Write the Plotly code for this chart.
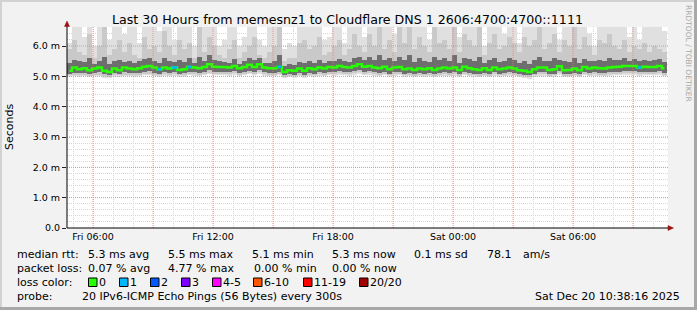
import plotly.graph_objects as go
import pandas as pd

# ---------------- data ----------------
title_text = "Last 30 Hours from memesnz1 to Cloudflare DNS 1 2606:4700:4700::1111"
start_time = "2025-12-19 04:42:00"
end_time = "2025-12-20 10:45:00"
step_minutes = 15

median_rtt = [
    5.18, 5.29, 5.23, 5.27, 5.20, 5.26, 5.29, 5.18, 5.14, 5.26,
    5.20, 5.29, 5.26, 5.23, 5.27, 5.32, 5.34, 5.29, 5.23, 5.29,
    5.26, 5.29, 5.21, 5.23, 5.31, 5.29, 5.27, 5.31, 5.40, 5.32,
    5.31, 5.31, 5.29, 5.34, 5.27, 5.31, 5.38, 5.31, 5.40, 5.29,
    5.27, 5.27, 5.31, 5.14, 5.20, 5.18, 5.26, 5.18, 5.27, 5.23,
    5.29, 5.26, 5.31, 5.29, 5.34, 5.31, 5.29, 5.34, 5.40, 5.32,
    5.34, 5.29, 5.27, 5.32, 5.23, 5.29, 5.31, 5.23, 5.26, 5.21,
    5.26, 5.23, 5.27, 5.21, 5.26, 5.29, 5.26, 5.29, 5.21, 5.32,
    5.27, 5.23, 5.21, 5.27, 5.21, 5.29, 5.23, 5.26, 5.29, 5.26,
    5.20, 5.18, 5.14, 5.23, 5.29, 5.29, 5.21, 5.23, 5.33, 5.20,
    5.21, 5.26, 5.20, 5.31, 5.26, 5.29, 5.27, 5.26, 5.29, 5.31,
    5.32, 5.34, 5.34, 5.34, 5.29, 5.32, 5.31, 5.31, 5.34, 5.27,
]

loss_count = [0] * 120
for _i in (18, 21, 24, 42, 114):
    loss_count[_i] = 1

ping_max = [
    6.10, 6.70, 6.70, 6.30, 6.70, 6.00, 6.70, 6.70, 6.20, 6.70,
    6.70, 6.40, 6.70, 6.70, 6.10, 6.70, 6.70, 6.70, 6.50, 6.70,
    6.70, 6.20, 6.70, 6.70, 6.70, 6.00, 6.70, 6.70, 6.70, 6.70,
    6.00, 6.20, 6.70, 6.70, 6.00, 6.30, 6.70, 6.70, 6.20, 6.00,
    6.70, 6.70, 6.70, 5.90, 6.10, 6.00, 6.70, 6.70, 6.70, 6.70,
    6.70, 6.20, 6.30, 6.70, 6.70, 6.10, 6.70, 6.70, 6.70, 6.30,
    6.70, 6.70, 6.70, 6.70, 6.70, 6.40, 6.70, 6.70, 6.70, 6.70,
    6.70, 6.70, 6.20, 6.70, 6.70, 6.70, 6.70, 6.70, 6.30, 6.70,
    6.70, 6.70, 6.70, 6.00, 6.70, 6.70, 6.70, 6.40, 6.70, 6.70,
    6.10, 6.70, 6.70, 6.70, 6.70, 6.70, 6.70, 6.70, 6.20, 6.70,
    6.70, 6.70, 6.70, 6.70, 6.40, 6.00, 6.70, 6.70, 6.70, 6.70,
    6.70, 6.70, 6.30, 6.70, 6.20, 6.70, 6.70, 6.70, 6.70, 6.50,
]

ping_upper = [
    5.90, 6.20, 5.80, 5.70, 6.40, 5.60, 6.00, 6.70, 5.70, 5.90,
    6.20, 5.80, 6.10, 5.70, 5.60, 6.30, 5.90, 6.00, 5.80, 6.50,
    6.00, 5.70, 6.20, 5.90, 6.10, 5.60, 6.70, 5.80, 6.30, 6.00,
    5.70, 5.60, 5.90, 6.20, 5.60, 5.80, 6.00, 6.30, 5.70, 5.60,
    5.80, 6.00, 6.70, 5.50, 5.60, 5.60, 6.10, 6.20, 5.90, 6.00,
    6.30, 5.70, 5.80, 6.00, 6.20, 5.70, 5.90, 6.40, 6.00, 5.80,
    6.40, 6.00, 6.70, 5.90, 6.20, 5.80, 6.70, 6.10, 6.70, 5.90,
    6.30, 6.00, 5.80, 6.70, 6.10, 6.20, 5.90, 6.70, 5.80, 6.40,
    6.20, 6.00, 6.70, 5.70, 6.10, 6.40, 5.90, 6.00, 6.30, 6.10,
    5.80, 6.30, 6.00, 6.20, 6.70, 5.90, 6.10, 6.40, 5.80, 6.20,
    6.00, 6.70, 5.90, 6.30, 6.00, 5.70, 6.20, 6.10, 6.40, 6.00,
    5.90, 6.20, 5.80, 6.00, 5.90, 6.10, 5.80, 6.00, 5.90, 5.80,
]

ping_dark_hi = [
    5.45, 5.55, 5.50, 5.48, 5.60, 5.42, 5.52, 5.65, 5.40, 5.50,
    5.55, 5.48, 5.52, 5.45, 5.50, 5.58, 5.62, 5.50, 5.45, 5.60,
    5.50, 5.47, 5.55, 5.48, 5.60, 5.45, 5.65, 5.52, 5.70, 5.55,
    5.50, 5.48, 5.45, 5.58, 5.42, 5.50, 5.62, 5.55, 5.60, 5.45,
    5.45, 5.50, 5.70, 5.35, 5.40, 5.38, 5.48, 5.45, 5.50, 5.45,
    5.55, 5.45, 5.50, 5.52, 5.58, 5.50, 5.48, 5.60, 5.65, 5.55,
    5.65, 5.55, 5.70, 5.55, 5.60, 5.50, 5.65, 5.55, 5.70, 5.48,
    5.60, 5.50, 5.48, 5.65, 5.55, 5.60, 5.50, 5.70, 5.45, 5.62,
    5.58, 5.50, 5.65, 5.45, 5.55, 5.60, 5.48, 5.52, 5.62, 5.55,
    5.45, 5.50, 5.42, 5.55, 5.65, 5.52, 5.50, 5.60, 5.55, 5.50,
    5.48, 5.62, 5.45, 5.58, 5.52, 5.50, 5.55, 5.50, 5.60, 5.55,
    5.55, 5.60, 5.52, 5.58, 5.50, 5.55, 5.52, 5.55, 5.58, 5.48,
]

ping_dark_lo = [
    5.08, 5.12, 5.10, 5.12, 5.08, 5.11, 5.13, 5.07, 5.04, 5.10,
    5.08, 5.13, 5.11, 5.10, 5.12, 5.15, 5.16, 5.12, 5.09, 5.13,
    5.11, 5.13, 5.09, 5.10, 5.14, 5.13, 5.12, 5.14, 5.20, 5.15,
    5.14, 5.15, 5.13, 5.17, 5.12, 5.15, 5.19, 5.14, 5.20, 5.13,
    5.12, 5.12, 5.14, 5.03, 5.07, 5.06, 5.11, 5.06, 5.12, 5.09,
    5.13, 5.11, 5.15, 5.13, 5.16, 5.14, 5.13, 5.16, 5.20, 5.15,
    5.16, 5.13, 5.12, 5.15, 5.09, 5.13, 5.14, 5.09, 5.11, 5.08,
    5.11, 5.09, 5.12, 5.08, 5.11, 5.13, 5.11, 5.13, 5.08, 5.15,
    5.12, 5.09, 5.08, 5.12, 5.08, 5.13, 5.09, 5.11, 5.13, 5.11,
    5.08, 5.06, 5.03, 5.09, 5.13, 5.13, 5.08, 5.09, 5.16, 5.08,
    5.08, 5.11, 5.08, 5.14, 5.11, 5.13, 5.12, 5.11, 5.13, 5.14,
    5.15, 5.16, 5.16, 5.16, 5.13, 5.15, 5.14, 5.14, 5.16, 5.12,
]

ping_lower = [
    5.03, 5.05, 5.04, 5.06, 5.02, 5.05, 5.06, 5.01, 4.99, 5.04,
    5.03, 5.06, 5.05, 5.04, 5.06, 5.08, 5.09, 5.06, 5.04, 5.07,
    5.05, 5.07, 5.03, 5.04, 5.08, 5.07, 5.05, 5.08, 5.12, 5.09,
    5.08, 5.09, 5.07, 5.10, 5.06, 5.08, 5.12, 5.08, 5.13, 5.07,
    5.06, 5.06, 5.08, 4.98, 5.02, 5.01, 5.05, 5.00, 5.06, 5.03,
    5.07, 5.05, 5.09, 5.07, 5.10, 5.08, 5.07, 5.10, 5.13, 5.09,
    5.10, 5.07, 5.06, 5.09, 5.03, 5.07, 5.08, 5.03, 5.05, 5.02,
    5.05, 5.03, 5.06, 5.02, 5.05, 5.07, 5.05, 5.07, 5.02, 5.09,
    5.06, 5.03, 5.02, 5.06, 5.02, 5.07, 5.03, 5.05, 5.07, 5.05,
    5.02, 5.00, 4.97, 5.03, 5.07, 5.07, 5.02, 5.03, 5.10, 5.02,
    5.02, 5.05, 5.02, 5.08, 5.05, 5.07, 5.06, 5.05, 5.07, 5.08,
    5.09, 5.10, 5.10, 5.10, 5.07, 5.09, 5.08, 5.08, 5.10, 5.06,
]

ping_min = [
    4.98, 5.00, 4.99, 5.01, 4.97, 5.00, 5.01, 4.96, 4.94, 4.99,
    4.98, 5.01, 5.00, 4.99, 5.01, 5.03, 5.04, 5.01, 4.99, 5.02,
    5.00, 5.02, 4.98, 4.99, 5.03, 5.02, 5.00, 5.03, 5.07, 5.04,
    5.03, 5.04, 5.02, 5.05, 5.01, 5.03, 5.07, 5.03, 5.08, 5.02,
    5.01, 5.01, 5.03, 4.93, 4.97, 4.96, 5.00, 4.95, 5.01, 4.98,
    5.02, 5.00, 5.04, 5.02, 5.05, 5.03, 5.02, 5.05, 5.08, 5.04,
    5.05, 5.02, 5.01, 5.04, 4.98, 5.02, 5.03, 4.98, 5.00, 4.97,
    5.00, 4.98, 5.01, 4.97, 5.00, 5.02, 5.00, 5.02, 4.97, 5.04,
    5.01, 4.98, 4.97, 5.01, 4.97, 5.02, 4.98, 5.00, 5.02, 5.00,
    4.97, 4.95, 4.92, 4.98, 5.02, 5.02, 4.97, 4.98, 5.05, 4.97,
    4.97, 5.00, 4.97, 5.03, 5.00, 5.02, 5.01, 5.00, 5.02, 5.03,
    5.04, 5.05, 5.05, 5.05, 5.02, 5.04, 5.03, 5.03, 5.05, 5.01,
]

y_tick_vals = [0, 1, 2, 3, 4, 5, 6]
y_tick_text = ["0.0", "1.0 m", "2.0 m", "3.0 m", "4.0 m", "5.0 m", "6.0 m"]
x_tick_vals = ["2025-12-19 06:00", "2025-12-19 09:00", "2025-12-19 12:00",
               "2025-12-19 15:00", "2025-12-19 18:00", "2025-12-19 21:00",
               "2025-12-20 00:00", "2025-12-20 03:00", "2025-12-20 06:00",
               "2025-12-20 09:00"]
x_tick_text = ["Fri 06:00", "", "Fri 12:00", "", "Fri 18:00", "",
               "Sat 00:00", "", "Sat 06:00", ""]

rtt_labels = ["5.3 ms avg", "5.5 ms max", "5.1 ms min", "5.3 ms now",
              "0.1 ms sd", "78.1", "am/s"]
loss_labels_stats = ["0.07 % avg", "4.77 % max", "0.00 % min", "0.00 % now"]
loss_names = ["0", "1", "2", "3", "4-5", "6-10", "11-19", "20/20"]
loss_colors = ["#26ff00", "#00b8ff", "#0059ff", "#7e00ff", "#ff00ff",
               "#ff5500", "#ff0000", "#a00000"]
probe_text = "20 IPv6-ICMP Echo Pings (56 Bytes) every 300s"
stamp_text = "Sat Dec 20 10:38:16 2025"
side_text = "RRDTOOL / TOBI OETIKER"

# ---------------- layout geometry (pixels) ----------------
W, H = 697, 310
L, R, T, B = 67, 668, 27, 228
FONT = "DejaVu Sans"


def px(X):
    return (X - L) / (R - L)


def py(Y):
    return (B - Y) / (B - T)


t0 = pd.Timestamp(start_time)
step = pd.Timedelta(minutes=step_minutes)
times = [t0 + step * k + step / 2 for k in range(len(median_rtt))]
width_ms = step_minutes * 60 * 1000

fig = go.Figure()


def band(lo, hi, color):
    fig.add_trace(go.Bar(
        x=times, y=[h - l for l, h in zip(lo, hi)], base=lo,
        width=width_ms, marker=dict(color=color, line=dict(width=0)),
        hoverinfo="skip", showlegend=False))


band(ping_min, ping_max, "#e0e0e0")
band(ping_lower, ping_upper, "#c9c9c9")
band(ping_dark_lo, ping_dark_hi, "#6e6e6e")

fig.add_trace(go.Scatter(
    x=times, y=median_rtt, mode="lines",
    line=dict(color=loss_colors[0], width=2.5, shape="hvh"),
    hoverinfo="skip", showlegend=False))

# loss-colored median segments
seg = {}
for t, m, lc in zip(times, median_rtt, loss_count):
    if lc > 0:
        idx = 1 if lc == 1 else 2 if lc == 2 else 3 if lc == 3 else 4 if lc <= 5 else 5 if lc <= 10 else 6 if lc <= 19 else 7
        xs, ys = seg.setdefault(idx, ([], []))
        xs += [t - step / 2, t + step / 2, None]
        ys += [m, m, None]
for idx, (xs, ys) in seg.items():
    fig.add_trace(go.Scatter(x=xs, y=ys, mode="lines",
                             line=dict(color=loss_colors[idx], width=2.5),
                             hoverinfo="skip", showlegend=False))

shapes = []
grid_red = "rgba(240,120,120,0.75)"
# major grid (drawn above data, like rrdtool)
for tv in x_tick_vals:
    shapes.append(dict(type="line", xref="x", yref="paper", x0=tv, x1=tv, y0=0, y1=1,
                       line=dict(color=grid_red, width=1, dash="1px,1px"), layer="above"))
for v in y_tick_vals[1:]:
    shapes.append(dict(type="line", xref="paper", yref="y", x0=0, x1=1, y0=v, y1=v,
                       line=dict(color=grid_red, width=1, dash="1px,1px"), layer="above"))

# axis lines and arrows
shapes.append(dict(type="line", xref="paper", yref="paper", x0=px(L), x1=px(R + 1),
                   y0=py(B), y1=py(B), line=dict(color="black", width=1), layer="above"))
shapes.append(dict(type="line", xref="paper", yref="paper", x0=px(L), x1=px(L),
                   y0=py(B), y1=py(24), line=dict(color="black", width=1), layer="above"))
arrow_c = "#9b1010"
shapes.append(dict(type="path", xref="paper", yref="paper",
                   path=f"M {px(668)} {py(225.5)} L {px(673.5)} {py(228)} L {px(668)} {py(230.5)} Z",
                   fillcolor=arrow_c, line=dict(color=arrow_c, width=0.5), layer="above"))
shapes.append(dict(type="path", xref="paper", yref="paper",
                   path=f"M {px(64.5)} {py(26.5)} L {px(67)} {py(21)} L {px(69.5)} {py(26.5)} Z",
                   fillcolor=arrow_c, line=dict(color=arrow_c, width=0.5), layer="above"))

# frame border
shapes.append(dict(type="rect", xref="paper", yref="paper", x0=px(0), x1=px(W), y0=py(0), y1=py(2),
                   fillcolor="#d2d2d2", line=dict(width=0), layer="above"))
shapes.append(dict(type="rect", xref="paper", yref="paper", x0=px(0), x1=px(2), y0=py(0), y1=py(H),
                   fillcolor="#d2d2d2", line=dict(width=0), layer="above"))
shapes.append(dict(type="rect", xref="paper", yref="paper", x0=px(694), x1=px(W), y0=py(0), y1=py(H),
                   fillcolor="#a8a8a8", line=dict(width=0), layer="above"))
shapes.append(dict(type="rect", xref="paper", yref="paper", x0=px(0), x1=px(W), y0=py(307), y1=py(H),
                   fillcolor="#a8a8a8", line=dict(width=0), layer="above"))

annotations = []


def txt(s, X, Y, size=11, anchor="left", color="black", angle=0):
    annotations.append(dict(text=s, x=px(X), y=py(Y), xref="paper", yref="paper",
                            xanchor=anchor, yanchor="middle", showarrow=False,
                            textangle=angle, borderpad=0,
                            font=dict(family=FONT, size=size, color=color)))


txt(title_text, 347.5, 19.3, size=12.6, anchor="center")
txt("Seconds", 10, 127, size=11, anchor="center", angle=-90)
txt(side_text, 688, 53, size=7.5, anchor="center", color="#a8a8a8", angle=90)

row_y = [254, 268.3, 282.3, 296]
txt("median rtt:", 16, row_y[0])
for s, X in zip(rtt_labels, [87, 167, 250.5, 330.5, 413, 485.5, 522]):
    txt(s, X, row_y[0])
txt("packet loss:", 16, row_y[1])
for s, X in zip(loss_labels_stats, [87, 167, 253, 331]):
    txt(s, X, row_y[1])
txt("loss color:", 16, row_y[2])
for s, c, X in zip(loss_names, loss_colors, [88.5, 119.5, 150.5, 181.5, 212.5, 253.5, 303.5, 359.5]):
    shapes.append(dict(type="rect", xref="paper", yref="paper",
                       x0=px(X), x1=px(X + 8.5), y0=py(278), y1=py(286.5),
                       fillcolor=c, line=dict(color="black", width=1), layer="above"))
    txt(s, X + 9, row_y[2])
txt("probe:", 16, row_y[3])
txt(probe_text, 80.5, row_y[3])
txt(stamp_text, 680.5, row_y[3], anchor="right")

tickfont = dict(family=FONT, size=9.5, color="black")
fig.update_layout(
    width=W, height=H,
    margin=dict(l=L, r=W - R, t=T, b=H - B, pad=0),
    paper_bgcolor="#f2f2f2", plot_bgcolor="white",
    barmode="overlay", bargap=0,
    showlegend=False,
    shapes=shapes, annotations=annotations,
    xaxis=dict(type="date", range=[start_time, end_time],
               tickmode="array", tickvals=x_tick_vals, ticktext=x_tick_text,
               showgrid=False, zeroline=False, showline=False,
               ticks="", tickfont=tickfont, ticklabelstandoff=1,
               minor=dict(dtick=3600000, tick0="2025-12-19 00:00", showgrid=True,
                          gridcolor="#d6d6d6", griddash="1px,1px", gridwidth=1, ticks=""),
               fixedrange=True),
    yaxis=dict(range=[0, (B - T) / ((B - 46) / 6.0)],
               tickmode="array", tickvals=y_tick_vals, ticktext=y_tick_text,
               showgrid=False, zeroline=False, showline=False,
               ticks="outside", ticklen=4, tickcolor="#222222", tickwidth=1,
               tickfont=tickfont,
               minor=dict(dtick=0.2, tick0=0, showgrid=True, gridcolor="#d6d6d6",
                          griddash="1px,1px", gridwidth=1, ticks=""),
               fixedrange=True),
)

fig.write_html("out.html")
